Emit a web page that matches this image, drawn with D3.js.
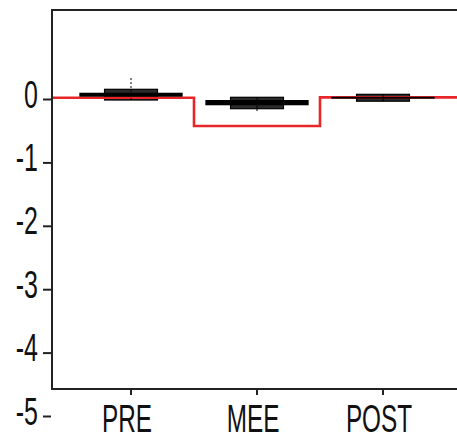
<!DOCTYPE html>
<html>
<head>
<meta charset="utf-8">
<script src="https://cdn.jsdelivr.net/npm/d3@7"></script>
<style>
  html, body { margin: 0; padding: 0; background: #fff; }
  svg { display: block; }
  text { font-family: "Liberation Sans", Arial, sans-serif; fill: #111; }
</style>
</head>
<body>
<div id="chart"></div>
<script>
// values
const categories = ["PRE", "MEE", "POST"];
const ciLow = [0.036, -0.099, 0.005];
const ciHigh = [0.099, -0.016, 0.035];
const boxLow = [-0.016, -0.153, -0.035];
const boxHigh = [0.153, 0.027, 0.074];
const whiskerLow = [-0.02, -0.19, -0.04];
const whiskerHigh = [0.33, 0.03, 0.075];
const stepValues = [0.02, -0.425, 0.025];
const yTicks = [0, -1, -2, -3, -4, -5];

(function () {
  const W = 457, H = 437;
  const left = 52, top = 10, bottom = 389, right = 460;
  const sx = 0.64; // condensed look of the original lettering

  const svg = d3.select("#chart").append("svg").attr("width", W).attr("height", H);

  const y = d3.scaleLinear().domain([0, -5]).range([99, 416]);
  const x = d3.scaleBand().domain(categories).range([68, 446]).padding(0);
  const bw = x.bandwidth();
  const cx = c => x(c) + bw / 2;

  const groups = categories.map((c, i) => ({
    c, ciLo: ciLow[i], ciHi: ciHigh[i], bLo: boxLow[i], bHi: boxHigh[i],
    wLo: whiskerLow[i], wHi: whiskerHigh[i]
  }));

  // boxes
  svg.append("g").selectAll("rect").data(groups).join("rect")
    .attr("x", d => cx(d.c) - bw * 0.21)
    .attr("width", bw * 0.42)
    .attr("y", d => y(d.bHi))
    .attr("height", d => y(d.bLo) - y(d.bHi))
    .attr("fill", "#2a2a2a").attr("stroke", "#000").attr("stroke-width", 1.2);

  // red step line
  const pts = [];
  categories.forEach((c, i) => {
    const x0 = i === 0 ? left : x(c);
    const x1 = i === categories.length - 1 ? right : x(c) + bw;
    pts.push([x0, y(stepValues[i])], [x1, y(stepValues[i])]);
  });
  svg.append("path").attr("d", d3.line()(pts))
    .attr("fill", "none").attr("stroke", "#e8262a").attr("stroke-width", 2.6);

  // wide black bars
  svg.append("g").selectAll("rect").data(groups).join("rect")
    .attr("x", d => cx(d.c) - bw * 0.41)
    .attr("width", bw * 0.82)
    .attr("y", d => y(d.ciHi))
    .attr("height", d => Math.max(1.5, y(d.ciLo) - y(d.ciHi)))
    .attr("fill", "#000");

  // whiskers
  svg.append("g").selectAll("line").data(groups).join("line")
    .attr("x1", d => cx(d.c)).attr("x2", d => cx(d.c))
    .attr("y1", d => y(d.wHi)).attr("y2", d => y(d.wLo))
    .attr("stroke", "#000").attr("stroke-width", 1)
    .attr("stroke-dasharray", (d, i) => i === 0 ? "2,2" : null);

  // frame (open on the right)
  svg.append("path")
    .attr("d", `M${right},${top}H${left}V${bottom}H${right}`)
    .attr("fill", "none").attr("stroke", "#222").attr("stroke-width", 2);

  // y axis
  const ya = svg.append("g").attr("transform", `translate(${left - 1},0)`)
    .call(d3.axisLeft(y).tickValues(yTicks).tickFormat(d => String(d)).tickSize(8).tickSizeOuter(0));
  ya.select(".domain").remove();
  ya.selectAll(".tick line").attr("stroke", "#222").attr("stroke-width", 2);
  ya.selectAll(".tick text")
    .attr("font-size", 39).attr("text-anchor", "end")
    .attr("x", -13 / sx).attr("dy", null).attr("y", 8)
    .attr("transform", `scale(${sx},1)`);

  // x axis
  const xa = svg.append("g").attr("transform", `translate(0,${bottom})`)
    .call(d3.axisBottom(x).tickSize(6).tickSizeOuter(0));
  xa.select(".domain").remove();
  xa.selectAll(".tick line").attr("stroke", "#222").attr("stroke-width", 2);
  xa.selectAll(".tick text")
    .attr("font-size", 38).attr("text-anchor", "middle")
    .attr("x", -4 / sx).attr("dy", null).attr("y", 43)
    .attr("transform", `scale(${sx},1)`);
})();
</script>
</body>
</html>
